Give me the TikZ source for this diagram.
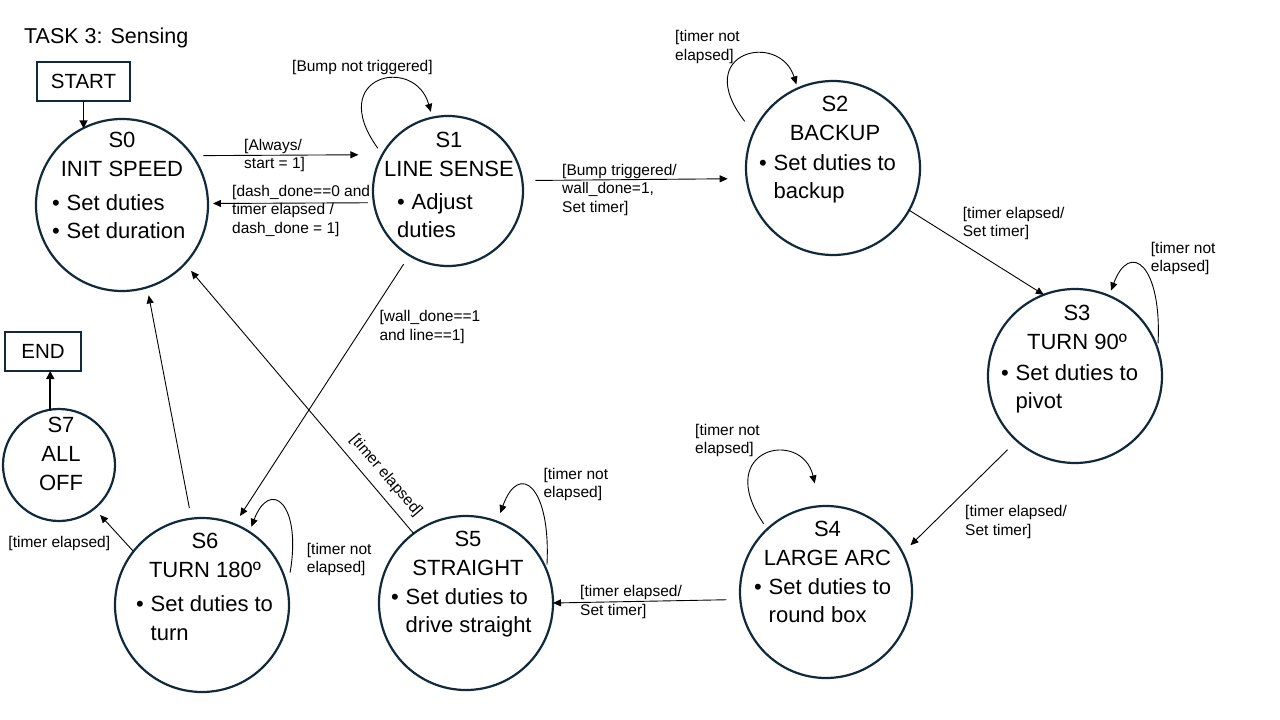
\documentclass[tikz,border=0pt]{standalone}
\usepackage{fontspec}
\setmainfont{Liberation Sans}
\usetikzlibrary{arrows.meta}
\definecolor{ring}{HTML}{10293B}
\newcommand{\bul}{\makebox[14.5pt][l]{\textbullet}}
\newcommand{\ind}{\hspace*{14.5pt}}
\tikzset{
  stc/.style={circle, draw=ring, line width=2.2pt, inner sep=0pt, outer sep=0pt},
  boxn/.style={rectangle, draw=ring, line width=2.2pt, inner sep=0pt, outer sep=0pt, font=\fontsize{20.5}{24}\selectfont},
  ttl/.style={anchor=base, inner sep=0pt, font=\fontsize{22}{29}\selectfont},
  body/.style={anchor=base west, inner sep=0pt, font=\fontsize{22}{28.5}\selectfont},
  lbl/.style={anchor=base west, inner sep=0pt, font=\fontsize{15.5}{18.5}\selectfont},
  lblf/.style={inner sep=0pt, font=\fontsize{15.5}{18.5}\selectfont},
  conn/.style={draw=black, line width=0.9pt, -{Triangle[length=8pt,width=7pt]}},
  thk/.style={draw=black, line width=1.6pt, -{Triangle[length=8pt,width=8pt]}}
}
\begin{document}
\begin{tikzpicture}[x=1pt,y=-1pt]
\useasboundingbox (0,0) rectangle (1280,720);
\fill[white] (0,0) rectangle (1280,720);

% title
\node[anchor=base west, inner sep=0pt, font=\fontsize{21.5}{26}\selectfont] (title) at (24,43.3) {TASK 3: Sensing};

% boxes
\node[boxn, minimum width=93pt, minimum height=39pt] (start) at (83.5,81.5) {START};
\node[boxn, minimum width=76pt, minimum height=39pt] (end) at (43,351.5) {END};

% states
\node[stc, minimum size=172pt] (s0) at (122,205) {};
\node[stc, minimum size=150pt] (s1) at (448,191) {};
\node[stc, minimum size=174pt] (s2) at (833,168) {};
\node[stc, minimum size=174pt] (s3) at (1075,376) {};
\node[stc, minimum size=172pt] (s4) at (826,592) {};
\node[stc, minimum size=174pt] (s5) at (466,603) {};
\node[stc, minimum size=174pt] (s6) at (202,605) {};
\node[stc, minimum size=112pt] (s7) at (59,465) {};

% state texts
\node[ttl] (s0t) at (122,147.7) {\begin{tabular}[t]{@{}c@{}}S0\\INIT SPEED\end{tabular}};
\node[body] (s0b) at (52,210) {\begin{tabular}[t]{@{}l@{}}\bul Set duties\\\bul Set duration\end{tabular}};
\node[ttl] (s1t) at (449,147.7) {\begin{tabular}[t]{@{}c@{}}S1\\LINE SENSE\end{tabular}};
\node[body] (s1b) at (397,209.3) {\begin{tabular}[t]{@{}l@{}}\bul Adjust\\duties\end{tabular}};
\node[ttl] (s2t) at (835,111.7) {\begin{tabular}[t]{@{}c@{}}S2\\BACKUP\end{tabular}};
\node[body] (s2b) at (759,170) {\begin{tabular}[t]{@{}l@{}}\bul Set duties to\\\ind backup\end{tabular}};
\node[ttl] (s3t) at (1077,320.7) {\begin{tabular}[t]{@{}c@{}}S3\\TURN 90º\end{tabular}};
\node[body] (s3b) at (1001,380) {\begin{tabular}[t]{@{}l@{}}\bul Set duties to\\\ind pivot\end{tabular}};
\node[ttl] (s4t) at (827.5,536.7) {\begin{tabular}[t]{@{}c@{}}S4\\LARGE ARC\end{tabular}};
\node[body] (s4b) at (754,594) {\begin{tabular}[t]{@{}l@{}}\bul Set duties to\\\ind round box\end{tabular}};
\node[ttl] (s5t) at (468,546.7) {\begin{tabular}[t]{@{}c@{}}S5\\STRAIGHT\end{tabular}};
\node[body] (s5b) at (391,604) {\begin{tabular}[t]{@{}l@{}}\bul Set duties to\\\ind drive straight\end{tabular}};
\node[ttl] (s6t) at (205,548.3) {\begin{tabular}[t]{@{}c@{}}S6\\TURN 180º\end{tabular}};
\node[body] (s6b) at (136,611.7) {\begin{tabular}[t]{@{}l@{}}\bul Set duties to\\\ind turn\end{tabular}};
\node[ttl] (s7t) at (61,432.7) {\begin{tabular}[t]{@{}c@{}}S7\\ALL\\OFF\end{tabular}};

% start / end arrows
\draw[thk] (start.south) -- (start.south |- s0.117);
\draw[thk] (s7.99) -- (s7.99 |- end.south);

% transitions
\draw[conn, shorten <=11pt, shorten >=24pt] (s0.35.5) -- (s1.151.4);
\draw[conn, shorten <=6pt, shorten >=5pt] (s1.189.2) -- (s0.1.3);
\draw[conn, shorten <=13pt, shorten >=19pt] (s1.8.4) -- (s2.187.9);
\draw[conn] (s2.-29.1) -- (s3.111);
\draw[conn, shorten <=13pt, shorten >=11pt] (s3.228.2) -- (s4.27.6);
\draw[conn, shorten <=14pt] (s4.185.3) -- (s5.0.7);
\draw[conn, shorten >=9.5pt] (s5.127.6) -- (s0.317.1);
\draw[conn, shorten <=10.6pt, shorten >=10pt] (s1.239.8) -- (s6.68.2);
\draw[conn, shorten <=10.7pt, shorten >=8.3pt] (s6.97) -- (s0.287.3);
\draw[conn, shorten <=1pt, shorten >=8.7pt] (s6.142.9) -- (s7.309.4);

% self loops
\draw[conn, shorten <=7.8pt, shorten >=6pt] (s1.151.9) .. controls (325,75) and (415,55) .. (s1.102.8);
\draw[conn, shorten <=14.2pt, shorten >=4.3pt] (s2.156.7) .. controls (690,51) and (780,31) .. (s2.114.6);
\draw[conn, shorten <=5.7pt, shorten >=5.8pt] (s3.18.2) .. controls (1162,265) and (1130,240) .. (s3.67.9);
\draw[conn, shorten <=6.6pt, shorten >=23.4pt] (s4.133.7) .. controls (712,448) and (802,428) .. (s4.94.7);
\draw[conn, shorten <=5.8pt, shorten >=9.2pt] (s5.22.1) .. controls (551,486) and (519,461) .. (s5.69.3);
\draw[conn, shorten <=16pt, shorten >=5.6pt] (s6.11.2) .. controls (302,503) and (270,478) .. (s6.57.3);

% labels
\node[lblf, rotate=-49.5] (l50) at (386,476) {[timer elapsed]};
\node[lbl] (l01) at (244,150) {\begin{tabular}[t]{@{}l@{}}[Always/\\start = 1]\end{tabular}};
\node[lbl] (l10) at (232,196) {\begin{tabular}[t]{@{}l@{}}[dash\_done==0 and\\timer elapsed /\\dash\_done = 1]\end{tabular}};
\node[lbl] (l11) at (292,71.7) {[Bump not triggered]};
\node[lbl] (l12) at (562,175) {\begin{tabular}[t]{@{}l@{}}[Bump triggered/\\wall\_done=1,\\Set timer]\end{tabular}};
\node[lbl] (l22) at (675,41.7) {\begin{tabular}[t]{@{}l@{}}[timer not\\elapsed]\end{tabular}};
\node[lbl] (l23) at (962.7,218.3) {\begin{tabular}[t]{@{}l@{}}[timer elapsed/\\Set timer]\end{tabular}};
\node[lbl] (l33) at (1150.7,253.3) {\begin{tabular}[t]{@{}l@{}}[timer not\\elapsed]\end{tabular}};
\node[lbl] (l34) at (965,516.7) {\begin{tabular}[t]{@{}l@{}}[timer elapsed/\\Set timer]\end{tabular}};
\node[lbl] (l44) at (695,435) {\begin{tabular}[t]{@{}l@{}}[timer not\\elapsed]\end{tabular}};
\node[lbl] (l45) at (580,596.7) {\begin{tabular}[t]{@{}l@{}}[timer elapsed/\\Set timer]\end{tabular}};
\node[lbl] (l55) at (543.3,479.3) {\begin{tabular}[t]{@{}l@{}}[timer not\\elapsed]\end{tabular}};
\node[lbl] (l16) at (379.3,321.7) {\begin{tabular}[t]{@{}l@{}}[wall\_done==1\\and line==1]\end{tabular}};
\node[lbl] (l66) at (306.7,554) {\begin{tabular}[t]{@{}l@{}}[timer not\\elapsed]\end{tabular}};
\node[lbl] (l67) at (8.3,547.3) {[timer elapsed]};
\end{tikzpicture}
\end{document}
